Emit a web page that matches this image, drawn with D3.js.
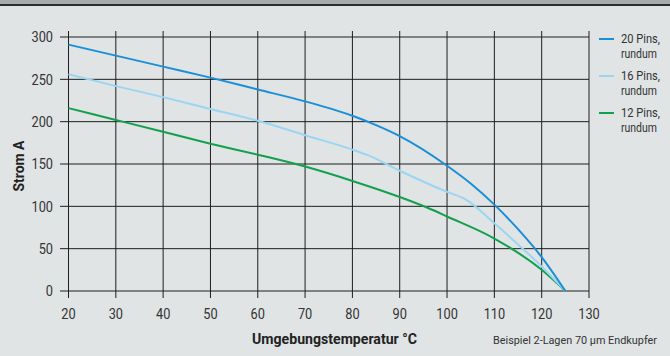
<!DOCTYPE html>
<html>
<head>
<meta charset="utf-8">
<script src="https://cdn.jsdelivr.net/npm/d3@7"></script>
<style>
  body { margin: 0; background: #e0e4e5; }
  svg { display: block; font-family: Roboto, "Liberation Sans", sans-serif; }
</style>
</head>
<body>
<div id="container"></div>
<script>
const width = 670, height = 356;

// Temperatur (°C) und Strom (A) je Kurve
const temp20 = [20, 30, 40, 50, 60, 70, 80, 85, 90, 100, 105, 110, 115, 120, 125];
const pins20 = [291, 278, 265, 252, 238, 224, 207, 196, 183, 148, 127, 102, 73, 40, 0];
const temp16 = [20, 30, 40, 50, 60, 70, 80, 83, 90, 100, 104, 110, 115, 120, 125];
const pins16 = [256, 242, 229, 215, 201, 184, 167, 161, 142, 117, 108, 80, 55, 29, 0];
const temp12 = [20, 30, 40, 50, 60, 70, 80, 90, 96, 100, 110, 120, 125];
const pins12 = [216, 202, 188, 174, 161, 147, 130, 111, 98, 88, 62, 25, 0];

const xTicks = [20, 30, 40, 50, 60, 70, 80, 90, 100, 110, 120, 130];
const yTicks = [0, 50, 100, 150, 200, 250, 300];

const seriesNames = ["20 Pins,", "16 Pins,", "12 Pins,"];
const seriesColors = ["#1a8fd8", "#9ad6f3", "#12a04e"];

const series = [
    { name: seriesNames[0], color: seriesColors[0], xs: temp20, ys: pins20 },
    { name: seriesNames[1], color: seriesColors[1], xs: temp16, ys: pins16 },
    { name: seriesNames[2], color: seriesColors[2], xs: temp12, ys: pins12 }
];

const svg = d3.select('#container')
    .append('svg')
    .attr('width', width)
    .attr('height', height);

// schmale Schrift nachbilden (Helvetica Condensed gibt es nicht)
const squeeze = 0.85;
function place(sel, fx, fy) {
    return sel.attr('transform', (d, i) => `translate(${fx(d, i)},${fy(d, i)}) scale(${squeeze},1)`);
}

// Kopfleiste
svg.append('rect').attr('x', 0).attr('y', 0).attr('width', width).attr('height', 4).attr('fill', '#a6acad');
svg.append('rect').attr('x', 0).attr('y', 4).attr('width', width).attr('height', 2).attr('fill', '#2a2c2d');

const x = d3.scaleLinear().domain([20, 130]).range([68.5, 589]);
const y = d3.scaleLinear().domain([0, 300]).range([291, 37]);

// Gitter
const grid = svg.append('g').attr('stroke', '#1e1e1e').attr('stroke-width', 1);
grid.selectAll('.v').data(xTicks).enter().append('line')
    .attr('x1', d => x(d)).attr('x2', d => x(d))
    .attr('y1', 31).attr('y2', 298);
grid.selectAll('.h').data(yTicks).enter().append('line')
    .attr('x1', 60).attr('x2', x(130))
    .attr('y1', d => y(d)).attr('y2', d => y(d));

// Achsenbeschriftungen
place(svg.append('g').selectAll('text').data(yTicks).enter().append('text'),
        () => 53, d => y(d))
    .attr('dy', '0.36em')
    .attr('text-anchor', 'end').attr('font-size', 15).attr('fill', '#333')
    .text(d => d);

place(svg.append('g').selectAll('text').data(xTicks).enter().append('text'),
        d => x(d), () => 319)
    .attr('text-anchor', 'middle').attr('font-size', 15).attr('fill', '#333')
    .text(d => d);

svg.append('text')
    .attr('transform', 'translate(24,166) rotate(-90)')
    .attr('text-anchor', 'middle').attr('font-size', 14).attr('font-weight', 'bold').attr('fill', '#222')
    .attr('textLength', 51).attr('lengthAdjust', 'spacingAndGlyphs')
    .text('Strom A');

svg.append('text')
    .attr('x', 334.5).attr('y', 344)
    .attr('text-anchor', 'middle').attr('font-size', 15).attr('font-weight', 'bold').attr('fill', '#222')
    .attr('textLength', 165).attr('lengthAdjust', 'spacingAndGlyphs')
    .text('Umgebungstemperatur °C');

svg.append('text')
    .attr('x', 493).attr('y', 344)
    .attr('font-size', 11.5).attr('fill', '#333')
    .attr('textLength', 164).attr('lengthAdjust', 'spacingAndGlyphs')
    .text('Beispiel 2-Lagen 70 µm Endkupfer');

// Kurven
const line = d3.line()
    .x(d => x(d[0]))
    .y(d => y(d[1]))
    .curve(d3.curveMonotoneX);

svg.append('g').selectAll('path').data(series.slice().reverse()).enter().append('path')
    .attr('d', s => line(s.xs.map((t, i) => [t, s.ys[i]])))
    .attr('fill', 'none')
    .attr('stroke', s => s.color)
    .attr('stroke-width', 2);

// Legende
const legend = svg.append('g').selectAll('g').data(series).enter().append('g')
    .attr('transform', (d, i) => `translate(599,${39 + i * 37})`);
legend.append('line').attr('x1', 0).attr('x2', 15).attr('y1', 0).attr('y2', 0)
    .attr('stroke', d => d.color).attr('stroke-width', 2);
legend.append('text').attr('x', 22).attr('y', 4)
    .attr('font-size', 12).attr('fill', '#333')
    .attr('textLength', 39).attr('lengthAdjust', 'spacingAndGlyphs')
    .text(d => d.name);
legend.append('text').attr('x', 22).attr('y', 19)
    .attr('font-size', 12).attr('fill', '#333')
    .attr('textLength', 36).attr('lengthAdjust', 'spacingAndGlyphs')
    .text('rundum');
</script>
</body>
</html>
